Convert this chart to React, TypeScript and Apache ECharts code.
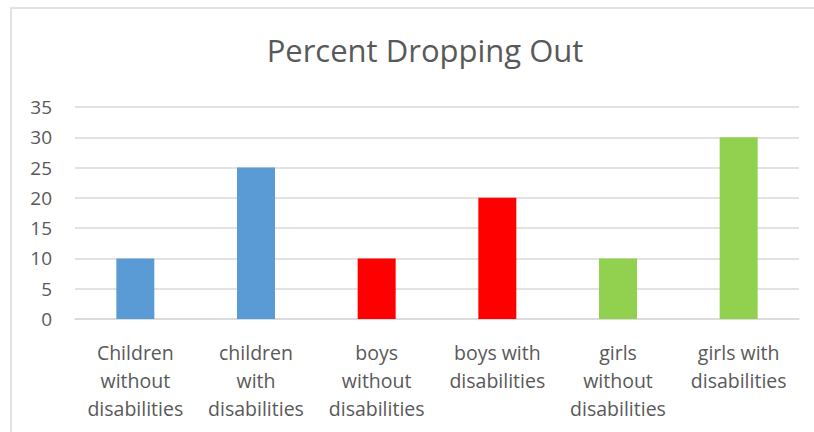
import React, { useEffect, useRef } from "react";
import * as echarts from "echarts";

const categories = [
  "Children\nwithout\ndisabilities",
  "children\nwith\ndisabilities",
  "boys\nwithout\ndisabilities",
  "boys with\ndisabilities",
  "girls\nwithout\ndisabilities",
  "girls with\ndisabilities",
];
const values = [10, 25, 10, 20, 10, 30];
const barColors = ["#5B9BD5", "#5B9BD5", "#FF0000", "#FF0000", "#92D050", "#92D050"];
const titleText = "Percent Dropping Out";

export default function App() {
  const ref = useRef<HTMLDivElement>(null);
  useEffect(() => {
    if (!ref.current) return;
    const chart = echarts.init(ref.current, undefined, { renderer: "svg" });
    const font = "'Open Sans', 'Liberation Sans', sans-serif";
    chart.setOption({
      animation: false,
      backgroundColor: "#ffffff",
      title: {
        text: titleText,
        left: 420,
        textAlign: "center",
        top: 29,
        textStyle: { fontFamily: font, fontSize: 31, fontWeight: "normal", color: "#595959" },
      },
      grid: { left: 75, right: 15, top: 107, bottom: 113, containLabel: false },
      xAxis: {
        type: "category",
        data: categories,
        axisLine: { lineStyle: { color: "#d9d9d9", width: 1.5 } },
        axisTick: { show: false },
        axisLabel: {
          interval: 0,
          margin: 19,
          fontFamily: font,
          fontSize: 19.5,
          lineHeight: 28,
          color: "#595959",
          align: "center",
        },
      },
      yAxis: {
        type: "value",
        min: 0,
        max: 35,
        interval: 5,
        axisLine: { show: false },
        axisTick: { show: false },
        splitLine: { lineStyle: { color: "#d9d9d9", width: 1.5 } },
        axisLabel: { margin: 23, fontFamily: font, fontSize: 19, color: "#595959" },
      },
      series: [
        {
          type: "bar",
          barWidth: 38,
          data: values.map((v, i) => ({ value: v, itemStyle: { color: barColors[i] } })),
        },
      ],
      graphic: [
        {
          type: "rect",
          shape: { x: 11, y: 8, width: 900, height: 500 },
          style: { fill: "none", stroke: "#d9d9d9", lineWidth: 1.5 },
          silent: true,
        },
      ],
    });
    return () => chart.dispose();
  }, []);
  return (
    <div style={{ position: "fixed", left: 0, top: 0, width: 814, height: 432 }}>
      <div ref={ref} style={{ width: 814, height: 432 }} />
    </div>
  );
}
